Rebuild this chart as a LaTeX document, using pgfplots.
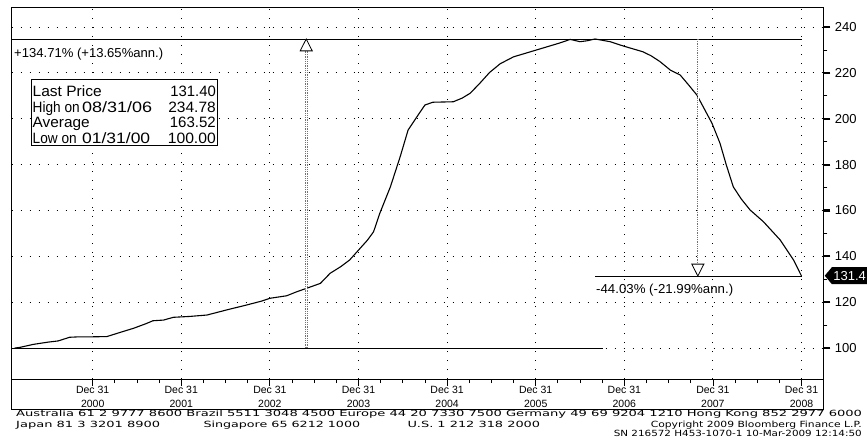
\documentclass[border=0pt]{standalone}
\usepackage{pgfplots}
\pgfplotsset{compat=1.18}
\usepackage{fontspec}
\setmainfont{Liberation Sans}
\newfontfamily\footfont{DejaVu Sans}
\usepackage{graphicx}
\usetikzlibrary{shapes.symbols}
\newsavebox\fitbox
\newcommand{\fit}[2]{\sbox\fitbox{#2}\pgfmathsetmacro\fitr{#1/\the\wd\fitbox}\scalebox{\fitr}[1]{\usebox\fitbox}}
\begin{document}
\begin{tikzpicture}
\path[use as bounding box] (0pt,0pt) rectangle (867pt,442pt);
\begin{axis}[
  at={(11.7pt,63pt)}, anchor=south west,
  scale only axis, width=811.6pt, height=371.7pt,
  xmin=2000.086, xmax=2009.246, ymin=86.5, ymax=248.6,
  axis line style={line width=0.9pt},
  xtick={2001,2002,2003,2004,2005,2006,2007,2008,2009},
  xticklabels={{Dec 31\\2000},{Dec 31\\2001},{Dec 31\\2002},{Dec 31\\2003},{Dec 31\\2004},{Dec 31\\2005},{Dec 31\\2006},{Dec 31\\2007},{Dec 31\\2008}},
  minor x tick num=3,
  xtick pos=bottom, ytick pos=right, yticklabel pos=right,
  tick align=outside,
  ytick={100,120,140,160,180,200,220,240},
  minor y tick num=1,
  major tick length=7pt, minor tick length=4pt,
  tick style={black, line width=0.8pt},
  major y tick style={line width=2.2pt},
  grid=major,
  major grid style={black, line width=0.9pt, dash pattern=on 1.3pt off 7.7pt},
  /pgf/number format/assume math mode=true,
  yticklabel style={font=\fontsize{13}{13}\selectfont, xshift=1pt},
  xticklabel style={font=\fontsize{10.5}{14}\selectfont, align=center, inner sep=1pt, yshift=1pt},
  clip=false,
]
% reference lines
\draw[black, line width=0.9pt] (axis cs:2000.086,234.78) -- (axis cs:2009,234.78);
\draw[black, line width=0.9pt] (axis cs:2000.086,100) -- (axis cs:2006.76,100);
\draw[black, line width=0.9pt] (axis cs:2006.67,131.4) -- (axis cs:2009,131.4);
% price series
\addplot[black, line width=1.1pt] coordinates {
(2000.12,100.0) (2000.18,100.3) (2000.33,101.6) (2000.50,102.6) (2000.61,103.1)
(2000.74,104.7) (2000.85,104.9) (2001.00,104.9) (2001.16,105.0) (2001.30,106.7)
(2001.46,108.6) (2001.60,110.6) (2001.68,111.9) (2001.80,112.2) (2001.91,113.4)
(2002.10,113.8) (2002.29,114.4) (2002.51,116.6) (2002.74,118.8) (2002.90,120.4)
(2003.00,121.7) (2003.19,122.8) (2003.30,124.5) (2003.41,126.0) (2003.57,128.2)
(2003.68,132.6) (2003.80,135.5) (2003.90,138.4) (2004.00,142.7) (2004.10,147.0)
(2004.17,150.7) (2004.24,158.7) (2004.36,170.3) (2004.47,183.4) (2004.56,195.1)
(2004.66,200.9) (2004.75,206.0) (2004.84,207.2) (2005.07,207.4) (2005.17,209.0)
(2005.26,211.1) (2005.37,215.5) (2005.48,220.2) (2005.60,224.0) (2005.75,227.0)
(2006.01,230.0) (2006.26,232.9) (2006.39,234.6) (2006.50,233.6) (2006.58,234.0)
(2006.67,234.78) (2006.84,233.6) (2006.99,231.7) (2007.21,229.2) (2007.30,227.5)
(2007.40,225.0) (2007.52,221.2) (2007.63,219.1) (2007.72,215.0) (2007.82,210.3)
(2007.90,204.5) (2007.99,198.0) (2008.08,189.3) (2008.15,180.0) (2008.23,170.3)
(2008.32,165.0) (2008.42,160.2) (2008.57,155.1) (2008.76,147.1) (2008.91,138.4)
(2009.00,131.4)
};
% up arrow
\draw[black!55, line width=2.6pt, dash pattern=on 0.9pt off 0.9pt] (axis cs:2003.41,100) -- (axis cs:2003.41,229.6);
\draw[white, line width=0.6pt] (axis cs:2003.41,100.5) -- (axis cs:2003.41,229.6);
\draw[black, line width=0.8pt, fill=white] (axis cs:2003.41,234.78) -- (axis cs:2003.342,229.6) -- (axis cs:2003.478,229.6) -- cycle;
% down arrow
\draw[black!55, line width=2.6pt, dash pattern=on 0.9pt off 0.9pt] (axis cs:2007.83,234.78) -- (axis cs:2007.83,136.6);
\draw[white, line width=0.6pt] (axis cs:2007.83,234.3) -- (axis cs:2007.83,136.6);
\draw[black, line width=0.8pt, fill=white] (axis cs:2007.83,131.4) -- (axis cs:2007.762,136.6) -- (axis cs:2007.898,136.6) -- cycle;
\end{axis}
% label band box
\draw[line width=0.9pt] (11.7pt,63pt) -- (11.7pt,33pt) -- (823.3pt,33pt) -- (823.3pt,63pt);
% annotations
\node[anchor=base west, inner sep=0pt, font=\fontsize{13}{13}\selectfont] at (14pt,384.7pt) {\fit{149pt}{+134.71\% (+13.65\%ann.)}};
\node[anchor=base west, inner sep=0pt, font=\fontsize{13}{13}\selectfont] at (596pt,148.7pt) {\fit{137pt}{-44.03\% (-21.99\%ann.)}};
% legend box
\draw[line width=0.9pt, fill=white] (31.7pt,363pt) rectangle (217pt,296.3pt);
\begin{scope}[every node/.style={inner sep=0pt, font=\fontsize{15}{15}\selectfont}]
\node[anchor=base west] at (32.5pt,345.3pt) {\fit{69pt}{Last Price}};
\node[anchor=base west] at (32.5pt,329.8pt) {\fit{47pt}{High on}};
\node[anchor=base west] at (82pt,329.8pt) {\fit{70pt}{08/31/06}};
\node[anchor=base west] at (32.5pt,314.3pt) {\fit{57pt}{Average}};
\node[anchor=base west] at (32.5pt,298.7pt) {\fit{44pt}{Low on}};
\node[anchor=base west] at (82pt,298.7pt) {\fit{68pt}{01/31/00}};
\node[anchor=base east] at (216pt,345.3pt) {\fit{45.5pt}{131.40}};
\node[anchor=base east] at (216pt,329.8pt) {\fit{47.5pt}{234.78}};
\node[anchor=base east] at (216pt,314.3pt) {\fit{46pt}{163.52}};
\node[anchor=base east] at (216pt,298.7pt) {\fit{48pt}{100.00}};
\end{scope}
% last price tag
\node[signal, signal to=west, signal pointer angle=100, fill=black, text=white, inner xsep=1.5pt, inner ysep=1pt, minimum height=17pt, anchor=west, font=\fontsize{13}{13}\selectfont] at (824.5pt,166.3pt) {131.4};
% footer
\begin{scope}[every node/.style={inner sep=0pt, font=\footfont\fontsize{8.5}{8.5}\selectfont}]
\node[anchor=base west] at (16pt,25.5pt) {\fit{846pt}{Australia 61 2 9777 8600 Brazil 5511 3048 4500 Europe 44 20 7330 7500 Germany 49 69 9204 1210 Hong Kong 852 2977 6000}};
\node[anchor=base west] at (16pt,15pt) {\fit{144pt}{Japan 81 3 3201 8900}};
\node[anchor=base west] at (203.3pt,15pt) {\fit{156.7pt}{Singapore 65 6212 1000}};
\node[anchor=base west] at (407.3pt,15pt) {\fit{132.7pt}{U.S. 1 212 318 2000}};
\node[anchor=base east] at (862pt,15pt) {\fit{211pt}{Copyright 2009 Bloomberg Finance L.P.}};
\node[anchor=base east] at (862pt,6pt) {\fit{248pt}{SN 216572 H453-1070-1 10-Mar-2009 12:14:50}};
\end{scope}
\end{tikzpicture}
\end{document}
